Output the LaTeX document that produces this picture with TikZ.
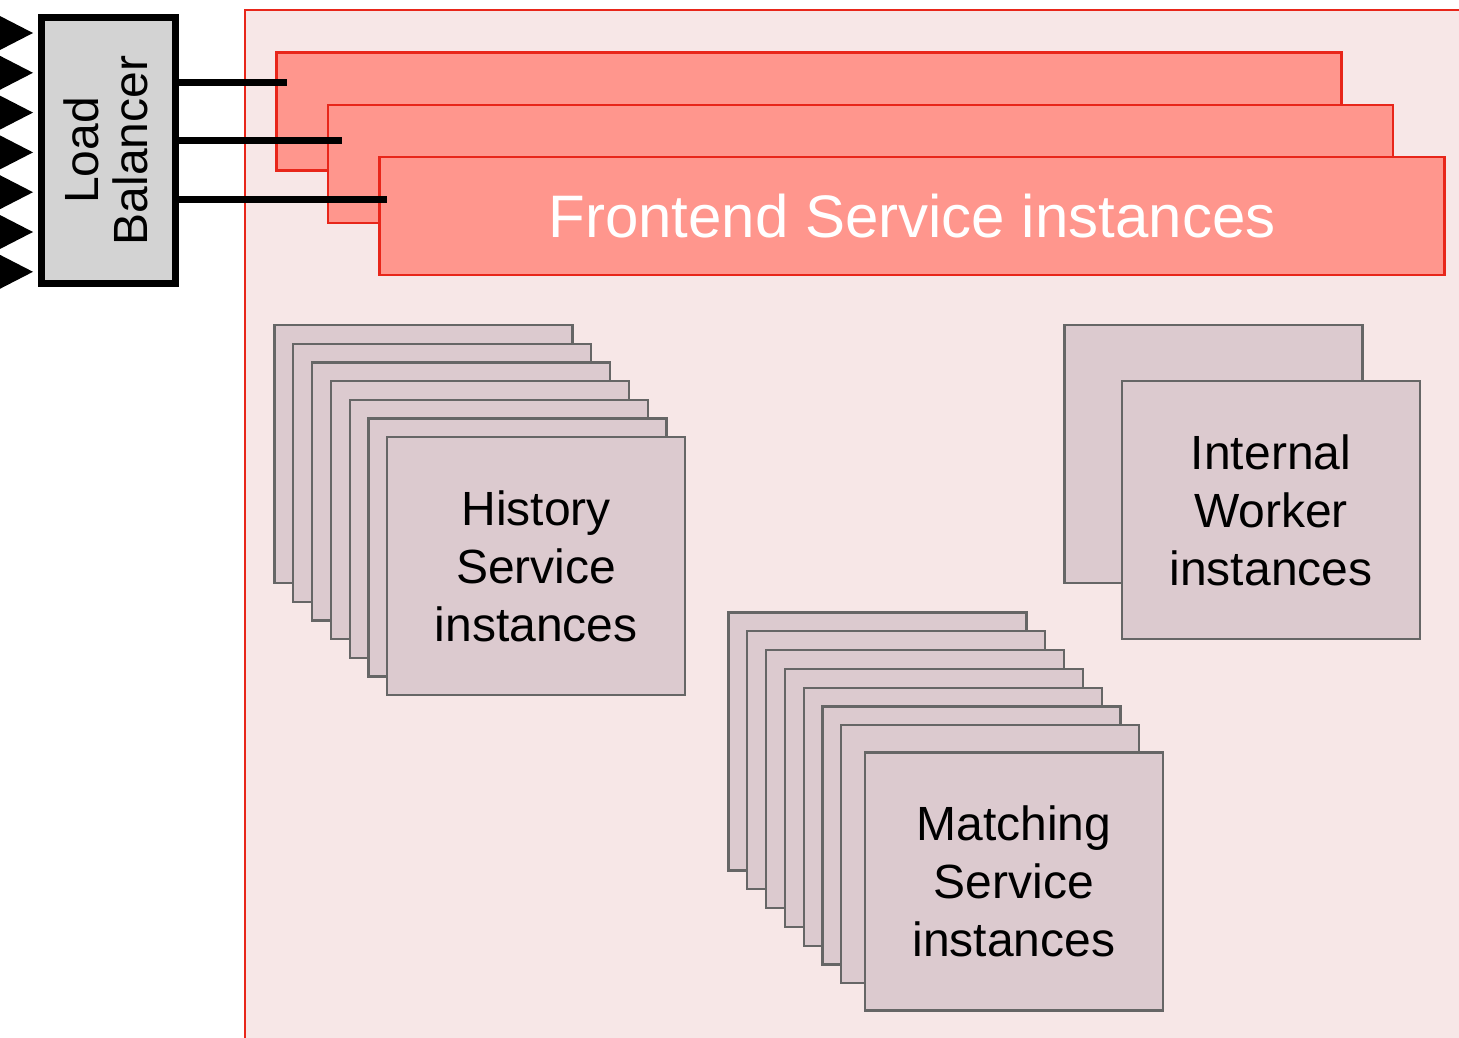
\documentclass[tikz,border=0pt]{standalone}
\usepackage{fontspec}
\setmainfont{Liberation Sans}
\definecolor{framered}{RGB}{232,38,26}
\definecolor{farmpink}{RGB}{247,231,231}
\definecolor{fesalmon}{RGB}{255,150,141}
\definecolor{instfill}{RGB}{220,202,207}
\definecolor{instline}{RGB}{102,102,102}
\definecolor{lbgrey}{RGB}{211,211,211}
\begin{document}
\begin{tikzpicture}[x=1pt, y=-1pt,
  farm/.style={draw=framered, line width=2pt, fill=farmpink},
  febox/.style={draw=framered, line width=2.5pt, fill=fesalmon, inner sep=0pt,
    minimum width=1065pt, minimum height=118pt},
  inst/.style={draw=instline, line width=2.3pt, fill=instfill, inner sep=0pt,
    minimum width=298pt, minimum height=258pt, align=center,
    font=\fontsize{48}{58}\selectfont},
  lbbox/.style={draw=black, line width=7pt, fill=lbgrey,
    minimum width=134pt, minimum height=266pt},
  tap/.style={draw=black, line width=7pt}]
\useasboundingbox (0,0) rectangle (1459,1037);
\clip (0,0) rectangle (1459,1037);
% cluster area
\path[farm] (245,10) rectangle (1520,1100);
% frontend
\node[febox] (fe1) at (809,111.5) {};
\node[febox] (fe2) at (860.5,164) {};
\node[febox, text=white, font=\fontsize{60}{66}\selectfont] (fe3) at (912,216) {Frontend Service instances};
% load balancer
\foreach \y in {33,72.8,112.6,152.4,192.2,232,271.8}
  \fill (-2,\y-18) -- (33,\y) -- (-2,\y+18) -- cycle;
\node[lbbox] (lb) at (108.5,150.5) {};
\node[rotate=90, align=center, font=\fontsize{48}{49}\selectfont] (lbtext) at ([xshift=-3pt]lb.center) {Load\\Balancer};
\coordinate (fe1tap) at (287,82);
\coordinate (fe2tap) at (342,140);
\coordinate (fe3tap) at (387,199);
\draw[tap] (lb.east |- fe1tap) -- (fe1tap);
\draw[tap] (lb.east |- fe2tap) -- (fe2tap);
\draw[tap] (lb.east |- fe3tap) -- (fe3tap);
% history
\node[inst] (hist1) at (423.5,454) {};
\node[inst] (hist2) at (442.3,472.7) {};
\node[inst] (hist3) at (461.1,491.4) {};
\node[inst] (hist4) at (479.9,510.1) {};
\node[inst] (hist5) at (498.7,528.8) {};
\node[inst] (hist6) at (517.5,547.5) {};
\node[inst] (hist7) at (536.3,566.2) {History\\Service\\instances};
% matching
\node[inst] (match1) at (877.5,741.5) {};
\node[inst] (match2) at (896.3,760.3) {};
\node[inst] (match3) at (915.1,779.1) {};
\node[inst] (match4) at (933.9,797.9) {};
\node[inst] (match5) at (952.7,816.7) {};
\node[inst] (match6) at (971.5,835.5) {};
\node[inst] (match7) at (990.3,854.3) {};
\node[inst] (match8) at (1014,881.5) {Matching\\Service\\instances};
% worker
\node[inst] (work1) at (1213.5,454) {};
\node[inst] (work2) at (1271,510) {Internal\\Worker\\instances};
\end{tikzpicture}
\end{document}
